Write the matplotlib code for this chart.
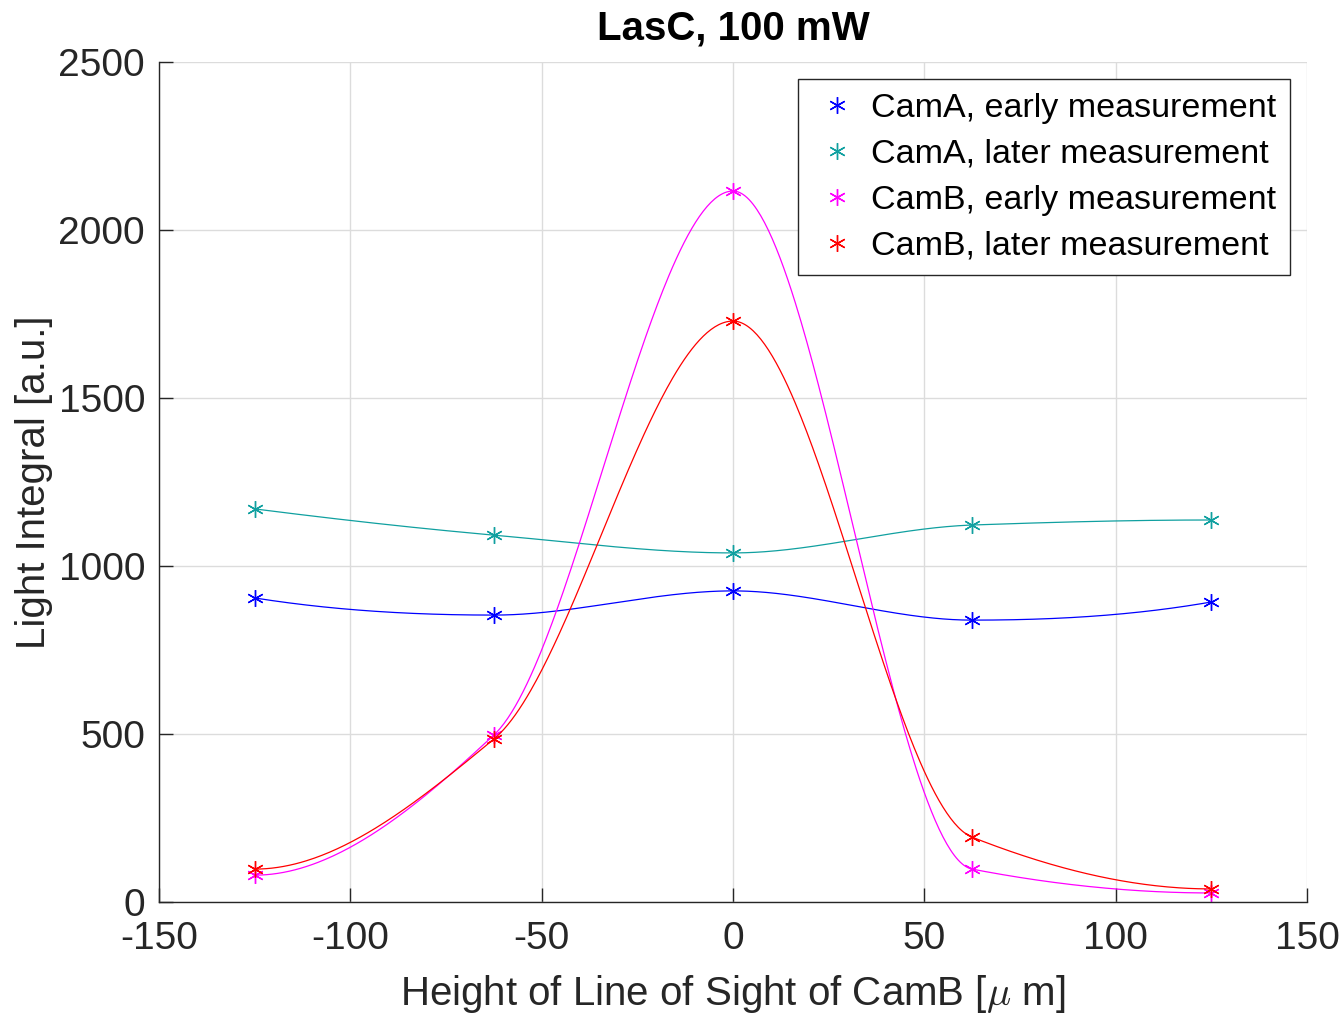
import numpy as np
import matplotlib
matplotlib.use('Agg')
import matplotlib.pyplot as plt

plt.rcParams['font.family'] = ['Liberation Sans', 'DejaVu Sans']
plt.rcParams['mathtext.fontset'] = 'cm'
plt.rcParams['axes.unicode_minus'] = False

# measured heights of the line of sight
height = [-125, -62.5, 0, 62.5, 125]

camA_early = [905, 854, 926, 839, 893]
camA_later = [1170, 1092, 1039, 1122, 1137]
camB_early = [80, 497, 2116, 98, 27]
camB_later = [98, 485, 1729, 193, 39]

labels = ['CamA, early measurement', 'CamA, later measurement',
          'CamB, early measurement', 'CamB, later measurement']
colors = ['#0000ff', '#10a0a0', '#ff00ff', '#ff0000']


def pchip(x, y, xs):
    # shape preserving piecewise cubic, like matlab's pchip
    x = np.asarray(x, float)
    y = np.asarray(y, float)
    h = np.diff(x)
    delta = np.diff(y) / h
    n = len(x)
    d = np.zeros(n)
    for k in range(1, n - 1):
        if delta[k - 1] * delta[k] > 0:
            w1 = 2 * h[k] + h[k - 1]
            w2 = h[k] + 2 * h[k - 1]
            d[k] = (w1 + w2) / (w1 / delta[k - 1] + w2 / delta[k])
    def end_slope(h0, h1, del0, del1):
        s = ((2 * h0 + h1) * del0 - h0 * del1) / (h0 + h1)
        if np.sign(s) != np.sign(del0):
            s = 0
        elif np.sign(del0) != np.sign(del1) and abs(s) > abs(3 * del0):
            s = 3 * del0
        return s
    d[0] = end_slope(h[0], h[1], delta[0], delta[1])
    d[-1] = end_slope(h[-1], h[-2], delta[-1], delta[-2])
    idx = np.clip(np.searchsorted(x, xs) - 1, 0, n - 2)
    t = (xs - x[idx]) / h[idx]
    hh = h[idx]
    h00 = 2 * t**3 - 3 * t**2 + 1
    h10 = t**3 - 2 * t**2 + t
    h01 = -2 * t**3 + 3 * t**2
    h11 = t**3 - t**2
    return h00 * y[idx] + h10 * hh * d[idx] + h01 * y[idx + 1] + h11 * hh * d[idx + 1]


fig = plt.figure(figsize=(13.43, 10.15), dpi=100)
ax = fig.add_axes([0.1184, 0.1113, 0.8548, 0.8276])

xs = np.linspace(height[0], height[-1], 500)
for vals, lab, c in zip([camA_early, camA_later, camB_early, camB_later], labels, colors):
    ax.plot(height, vals, linestyle='none', marker=(6, 2, 0), markersize=12,
            markeredgewidth=1.0, color=c, label=lab)
    ax.plot(xs, pchip(height, vals, xs), color=c, linewidth=0.9)

ax.set_xlim(-150, 150)
ax.set_ylim(0, 2500)
ax.set_xticks([-150, -100, -50, 0, 50, 100, 150])
ax.set_yticks([0, 500, 1000, 1500, 2000, 2500])
ax.grid(True, color='#dcdcdc', linewidth=1.0)
ax.set_axisbelow(True)
for s in ['top', 'right']:
    ax.spines[s].set_visible(False)
for s in ['left', 'bottom']:
    ax.spines[s].set_color('#262626')
    ax.spines[s].set_linewidth(1.0)
ax.tick_params(direction='in', length=10, width=1.0, colors='#262626',
               labelsize=28)
ax.tick_params(axis='x', pad=14)
ax.tick_params(axis='y', pad=10)

ax.set_title('LasC, 100 mW', fontsize=29, fontweight='bold', pad=16)
ax.set_xlabel(r'Height of Line of Sight of CamB [$\mu$ m]', fontsize=29,
              color='#262626', labelpad=11)
ax.set_ylabel('Light Integral [a.u.]', fontsize=29, color='#262626', labelpad=4)

leg = ax.legend(loc='upper right', fontsize=24.5, frameon=True, fancybox=False,
                edgecolor='#262626', framealpha=1, borderpad=0.4,
                handlelength=1.5, handletextpad=0.25, labelspacing=0.44,
                borderaxespad=0.5)
leg.get_frame().set_linewidth(1.0)

fig.savefig('out.png', dpi=100)
